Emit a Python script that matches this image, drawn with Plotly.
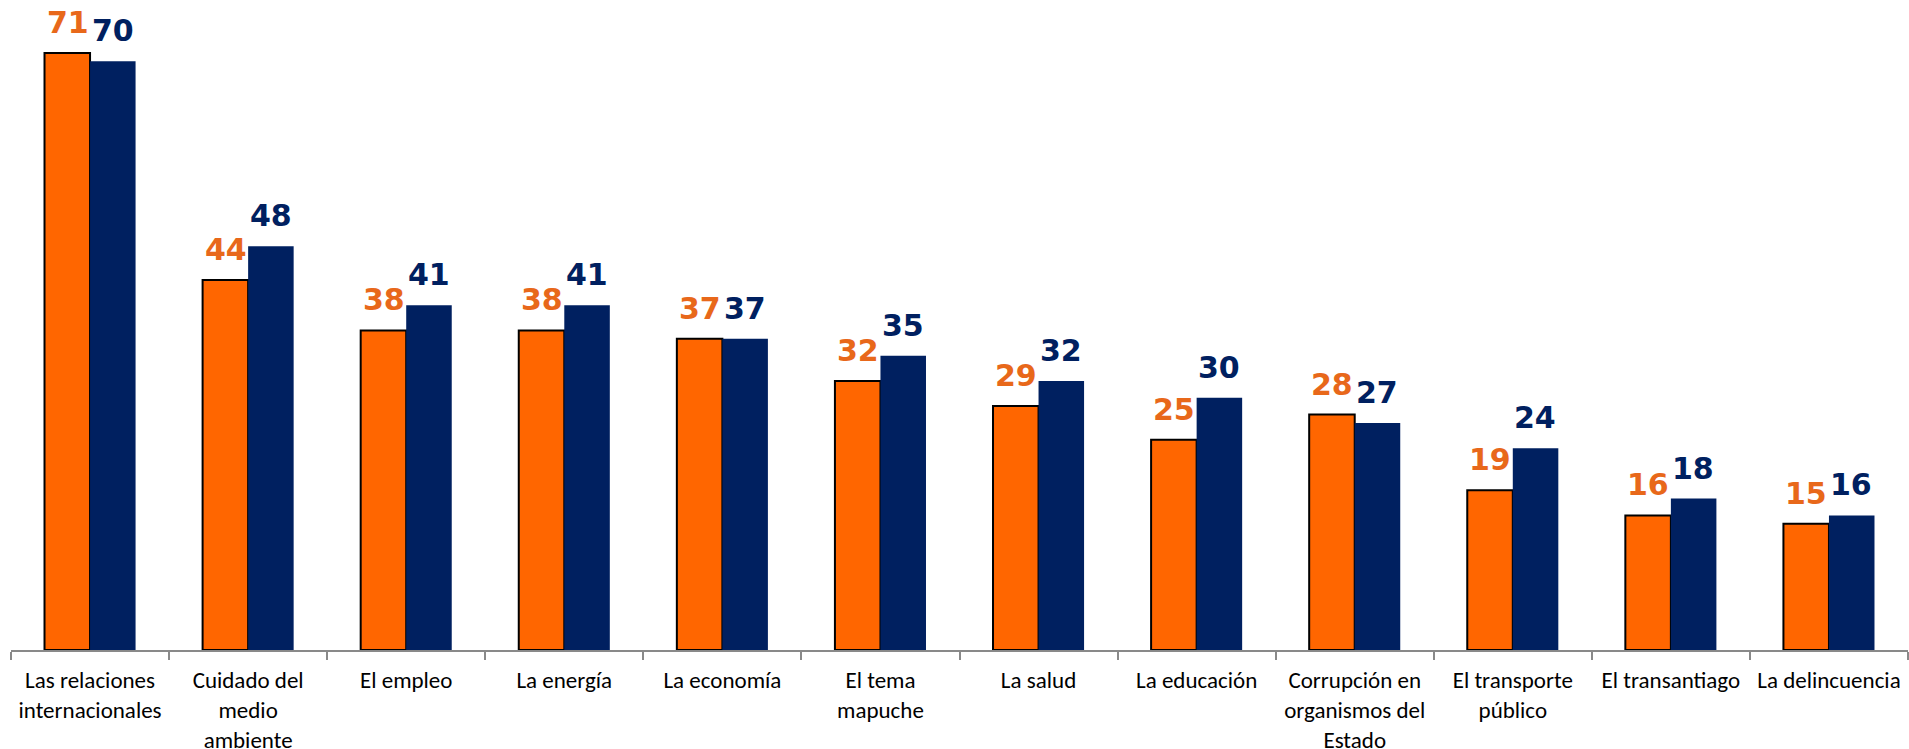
import plotly.graph_objects as go

categories = ["Las relaciones<br>internacionales", "Cuidado del<br>medio<br>ambiente", "El empleo", "La energía",
              "La economía", "El tema<br>mapuche", "La salud", "La educación",
              "Corrupción en<br>organismos del<br>Estado", "El transporte<br>público", "El transantiago",
              "La delincuencia"]
serie_a = [71, 44, 38, 38, 37, 32, 29, 25, 28, 19, 16, 15]
serie_b = [70, 48, 41, 41, 37, 35, 32, 30, 27, 24, 18, 16]

ORANGE = "#FF6600"
ORANGE_TXT = "#E8681A"
BLUE = "#002060"
LABEL_FONT = "Verdana, DejaVu Sans"

fig = go.Figure()
fig.add_trace(go.Bar(x=categories, y=serie_a, marker=dict(color=ORANGE, line=dict(color="black", width=2)),
                     showlegend=False))
fig.add_trace(go.Bar(x=categories, y=serie_b, marker=dict(color=BLUE, line=dict(width=0)),
                     showlegend=False))

ann = []
for c, a, b in zip(categories, serie_a, serie_b):
    ann.append(dict(x=c, y=a, xref="x", yref="y", text="<b>%d</b>" % a, showarrow=False, yanchor="bottom",
                    xshift=-22.5, yshift=11, font=dict(family=LABEL_FONT, size=30, color=ORANGE_TXT)))
    ann.append(dict(x=c, y=b, xref="x", yref="y", text="<b>%d</b>" % b, showarrow=False, yanchor="bottom",
                    xshift=22.5, yshift=11, font=dict(family=LABEL_FONT, size=30, color=BLUE)))

fig.update_layout(
    width=1909, height=749,
    margin=dict(l=11, r=1, t=0, b=99, autoexpand=False),
    plot_bgcolor="white", paper_bgcolor="white",
    barmode="group", bargap=0.424, bargroupgap=0,
    annotations=ann,
    xaxis=dict(showline=True, linecolor="#898989", linewidth=1.5, ticks="outside", tickson="boundaries",
               ticklen=8, tickcolor="#898989", tickwidth=1.5, tickangle=0, automargin=False,
               ticklabelstandoff=9,
               tickfont=dict(family="Calibri, Carlito, Lato", size=23, color="black"), showgrid=False),
    yaxis=dict(visible=False, range=[0, 650 / 8.41], showgrid=False, automargin=False),
    font=dict(family="Calibri, Carlito, Lato"),
)
fig.write_html("out.html", config={"displayModeBar": False},
               post_script="document.body.style.margin='0';document.body.style.overflow='hidden';")
